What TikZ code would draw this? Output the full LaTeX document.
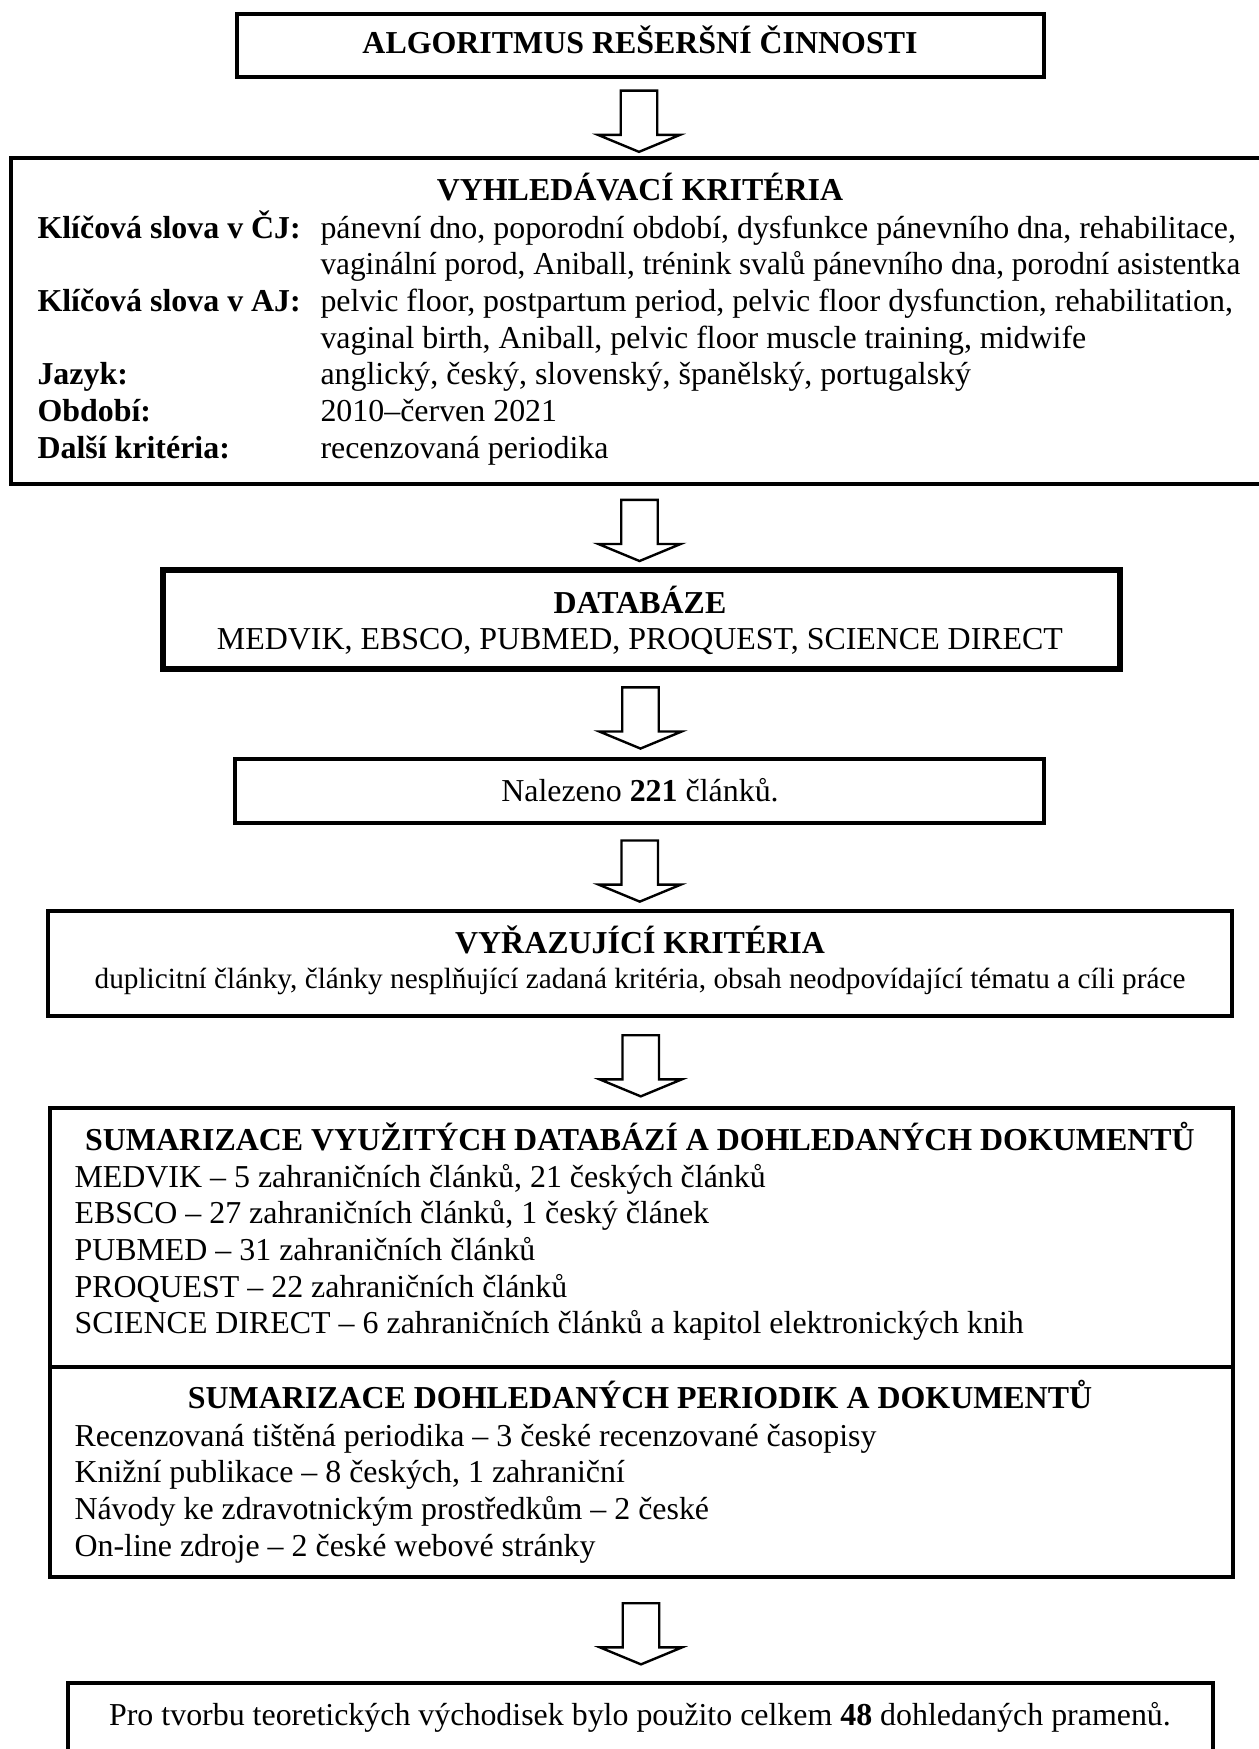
\documentclass[tikz,border=0pt]{standalone}
\usepackage{fontspec}
\setmainfont{Liberation Serif}
\usepackage{graphicx}
\usepackage{tikz}
\usetikzlibrary{shapes.arrows,fit,calc}

\tikzset{
  boxframe/.style={draw, inner sep=0pt, line width=#1},
  boxframe/.default=1.3pt,
  blockarrow/.style={draw, fill=white, single arrow, rotate=-90, line width=0.9pt,
    inner xsep=0pt, inner ysep=6.4pt, minimum height=23pt,
    single arrow head extend=8.6pt, single arrow tip angle=135},
  txt/.style={inner sep=0pt, anchor=base, font=\fontsize{12}{13.8}\selectfont},
}

\begin{document}
\begin{tikzpicture}[x=0.376pt, y=-0.376pt]
  \useasboundingbox (0,0) rectangle (1259,1749);

  % frames
  \node[boxframe=1.5pt, fit={(237,14) (1044,77)}] (alg) {};
  \node[boxframe=1.5pt, fit={(11,158) (1264,484)}] (crit) {};
  \node[boxframe=2pt, fit={(163,570) (1120,669)}] (db) {};
  \node[boxframe=1.7pt, fit={(235,759) (1044,823)}] (found) {};
  \node[boxframe, fit={(48,911) (1232,1016)}] (excl) {};
  \node[boxframe, fit={(50,1108) (1233,1367)}] (sumdb) {};
  \node[boxframe, fit={(50,1367) (1233,1577)}] (sumdoc) {};
  \node[boxframe, fit={(68,1683) (1213,1770)}] (total) {};

  % texts
  \node[txt] (algtext) at (640,53) {\bfseries ALGORITMUS REŠERŠNÍ ČINNOSTI};
  \node[txt] (crittitle) at (640,200) {\bfseries VYHLEDÁVACÍ KRITÉRIA};
  \node[txt, anchor=base west] (critlist) at (37,238) {%
    \begin{tabular}[t]{@{}p{106.4pt}@{}l@{}}
      \textbf{Klíčová slova v ČJ:} & pánevní dno, poporodní období, dysfunkce pánevního dna, rehabilitace,\\
      & \scalebox{0.98}[1]{vaginální porod, Aniball, trénink svalů pánevního dna, porodní asistentka}\\
      \textbf{Klíčová slova v AJ:} & pelvic floor, postpartum period, pelvic floor dysfunction, rehabilitation,\\
      & vaginal birth, Aniball, pelvic floor muscle training, midwife\\
      \textbf{Jazyk:} & anglický, český, slovenský, španělský, portugalský\\
      \textbf{Období:} & 2010–červen 2021\\
      \textbf{Další kritéria:} & recenzovaná periodika
    \end{tabular}};
  \node[txt] (dbtext) at (640,613) {%
    \begin{tabular}[t]{@{}c@{}}
      \textbf{DATABÁZE}\\
      MEDVIK, EBSCO, PUBMED, PROQUEST, SCIENCE DIRECT
    \end{tabular}};
  \node[txt] (foundtext) at (640,801) {Nalezeno \textbf{221} článků.};
  \node[txt] (excltitle) at (640,953) {\bfseries VYŘAZUJÍCÍ KRITÉRIA};
  \node[txt, font=\fontsize{11}{12.6}\selectfont] (excltext) at (640,988) {duplicitní články, články nesplňující zadaná kritéria, obsah neodpovídající tématu a cíli práce};
  \node[txt] (sumdbtitle) at (640,1150) {\bfseries SUMARIZACE VYUŽITÝCH DATABÁZÍ A DOHLEDANÝCH DOKUMENTŮ};
  \node[txt, anchor=base west] (sumdblist) at (74,1187) {%
    \begin{tabular}[t]{@{}l@{}}
      MEDVIK – 5 zahraničních článků, 21 českých článků\\
      EBSCO – 27 zahraničních článků, 1 český článek\\
      PUBMED – 31 zahraničních článků\\
      PROQUEST – 22 zahraničních článků\\
      SCIENCE DIRECT – 6 zahraničních článků a kapitol elektronických knih
    \end{tabular}};
  \node[txt] (sumdoctitle) at (640,1408) {\bfseries SUMARIZACE DOHLEDANÝCH PERIODIK A DOKUMENTŮ};
  \node[txt, anchor=base west] (sumdoclist) at (74,1446) {%
    \begin{tabular}[t]{@{}l@{}}
      Recenzovaná tištěná periodika – 3 české recenzované časopisy\\
      Knižní publikace – 8 českých, 1 zahraniční\\
      Návody ke zdravotnickým prostředkům – 2 české\\
      On-line zdroje – 2 české webové stránky
    \end{tabular}};
  \node[txt] (totaltext) at (640,1725) {Pro tvorbu teoretických východisek bylo použito celkem \textbf{48} dohledaných pramenů.};

  % arrows
  \node[blockarrow] (a1) at ($(alg.south)!0.5!(crit.north)$) {};
  \node[blockarrow] (a2) at ($(crit.south)!0.5!(db.north)$) {};
  \node[blockarrow] (a3) at ($(db.south)!0.5!(found.north)$) {};
  \node[blockarrow] (a4) at ($(found.south)!0.5!(excl.north)$) {};
  \node[blockarrow] (a5) at ($(excl.south)!0.5!(sumdb.north)$) {};
  \node[blockarrow] (a6) at ($(sumdoc.south)!0.5!(total.north)$) {};
\end{tikzpicture}
\end{document}
